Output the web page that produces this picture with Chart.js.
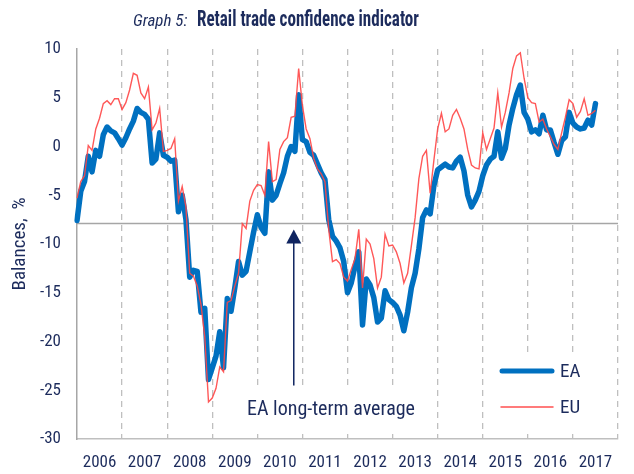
<!DOCTYPE html>
<html>
<head>
<meta charset="utf-8">
<script src="https://cdn.jsdelivr.net/npm/chart.js@4.4.0/dist/chart.umd.min.js"></script>
<style>
  body { margin: 0; background: #fff; }
</style>
</head>
<body>
<canvas id="myChart" width="634" height="474"></canvas>
<script>
// year labels under the axis (one per year, shown mid-year)
var years = ['2006', '2007', '2008', '2009', '2010', '2011', '2012', '2013', '2014', '2015', '2016', '2017'];
var monthNames = ['Jan', 'Feb', 'Mar', 'Apr', 'May', 'Jun', 'Jul', 'Aug', 'Sep', 'Oct', 'Nov', 'Dec'];

// monthly balances, Jan 2006 - Jul 2017
var eaValues = [
  -7.6, -4.6, -3.6, -1.0, -2.6, -0.4, -1.0, 1.2, 2.0, 1.6, 1.4, 0.8,
  0.15, 0.9, 1.8, 2.6, 3.9, 3.5, 3.3, 2.8, -1.7, -1.3, 1.4, -0.9,
  -1.1, -1.5, -1.4, -6.7, -5.0, -7.5, -13.4, -12.7, -12.8, -17.0, -16.6, -23.9,
  -22.7, -21.5, -19.0, -22.7, -15.6, -16.9, -14.5, -11.8, -13.2, -12.8, -10.8, -8.8,
  -7.0, -8.3, -8.9, -2.6, -5.5, -5.0, -3.8, -2.7, -1.0, 0.0, -0.5, 5.3,
  0.7, 0.5, -0.6, -0.9, -1.8, -2.7, -3.4, -7.5, -9.2, -9.7, -10.4, -11.8,
  -15.0, -14.0, -12.3, -10.8, -18.3, -13.6, -14.2, -15.5, -18.0, -17.6, -14.8, -15.7,
  -16.0, -16.4, -17.3, -18.9, -17.0, -14.5, -13.0, -10.5, -7.3, -6.5, -6.9, -4.0,
  -2.4, -2.1, -1.8, -2.1, -2.2, -1.5, -1.1, -2.5, -5.0, -6.2, -5.5, -4.6,
  -3.0, -1.9, -1.3, -1.0, 1.5, -1.2, -0.2, 2.2, 3.9, 5.3, 6.3, 3.5,
  2.8, 1.5, 1.7, 1.3, 3.2, 1.7, 1.7, 0.4, -0.8, 0.6, 1.0, 3.5,
  2.4, 2.0, 1.8, 1.9, 2.7, 2.2, 4.4
];
var euValues = [
  -5.3, -3.6, -3.0, 0.1, -0.4, 1.8, 2.9, 4.4, 4.7, 4.3, 4.9, 4.9,
  3.8, 4.5, 5.8, 7.5, 7.3, 5.5, 4.9, 6.1, 1.7, 2.4, 3.9, -0.5,
  -0.4, -0.2, 0.8, -5.6, -4.1, -6.2, -13.0, -13.3, -14.3, -16.2, -19.5, -26.2,
  -25.8, -24.8, -22.6, -23.1, -16.0, -15.8, -14.3, -13.0, -7.9, -8.4, -5.6, -4.5,
  -3.9, -4.0, -5.0, 0.5, -3.6, -3.4, -0.3, 0.5, 0.9, 3.0, 3.1, 8.0,
  4.2, 1.8, 0.8, -1.2, -2.3, -2.8, -3.6, -8.5, -11.8, -11.6, -12.0, -13.4,
  -13.8, -12.6, -11.5, -8.5, -14.5, -9.5, -10.0, -11.5, -14.5, -13.4, -9.0, -10.2,
  -10.1, -10.8, -12.0, -14.0, -13.0, -10.2, -7.3, -3.3, -1.0, -0.4, -4.8, -1.4,
  1.8, 3.4, 1.5, 1.8, 3.2, 3.8, 2.9, 1.8, -0.3, -1.9, -2.2, -2.3,
  1.4, -0.3, 0.8, 1.9, 5.5, 2.0, 3.5, 5.5, 8.0, 9.3, 9.6, 7.0,
  5.0, 4.5, 4.4, 2.5, 2.8, 1.8, 1.0, 0.2, -0.3, 1.4, 3.0, 4.8,
  4.4, 3.0, 3.6, 4.9, 3.2, 3.4, 3.7
];
var longTermAverage = -7.9;

var NAVY = '#1c2b5c';
var FONT = '"Liberation Sans Narrow", "Arial Narrow", "Roboto Condensed", "DejaVu Sans Condensed", "Liberation Sans", Arial, sans-serif';

// one category per month, Jan 2006 .. Jan 2018 (so the last year is a full slot)
var labels = [];
for (var yi = 0; yi <= years.length; yi++) {
  for (var m = 0; m < 12; m++) {
    if (yi === years.length && m > 0) break;
    labels.push(monthNames[m] + ' ' + (2006 + yi));
  }
}

var extras = {
  id: 'extras',
  beforeDatasetsDraw: function (chart) {
    var ctx = chart.ctx, ys = chart.scales.y, area = chart.chartArea;
    ctx.save();
    // white boxes behind the annotation text and the legend
    ctx.fillStyle = '#fff';
    ctx.fillRect(244, 386, 172, 44);
    ctx.fillRect(488, 352, 116, 80);
    // long-term average line
    var ya = ys.getPixelForValue(longTermAverage);
    ctx.strokeStyle = '#a6a6a6';
    ctx.lineWidth = 1.5;
    ctx.beginPath();
    ctx.moveTo(area.left, ya);
    ctx.lineTo(area.right, ya);
    ctx.stroke();
    ctx.restore();
  },
  afterDraw: function (chart) {
    var ctx = chart.ctx, xs = chart.scales.x, ys = chart.scales.y;
    ctx.save();
    // arrow to the long-term average
    var ax = xs.getPixelForValue(57.7);
    var tip = ys.getPixelForValue(-8.5);
    var base = ys.getPixelForValue(-24.5);
    ctx.strokeStyle = '#0f2460';
    ctx.fillStyle = '#0f2460';
    ctx.lineWidth = 1.5;
    ctx.beginPath();
    ctx.moveTo(ax, base);
    ctx.lineTo(ax, tip + 12);
    ctx.stroke();
    ctx.beginPath();
    ctx.moveTo(ax, tip);
    ctx.lineTo(ax - 7.5, tip + 14);
    ctx.lineTo(ax + 7.5, tip + 14);
    ctx.closePath();
    ctx.fill();

    ctx.fillStyle = NAVY;
    ctx.textBaseline = 'middle';
    ctx.textAlign = 'center';
    ctx.font = '20px ' + FONT;
    ctx.fillText('EA long-term average', 331, 410);

    // legend
    ctx.lineCap = 'round';
    ctx.strokeStyle = '#0070c0';
    ctx.lineWidth = 5;
    ctx.beginPath(); ctx.moveTo(502, 371); ctx.lineTo(552, 371); ctx.stroke();
    ctx.strokeStyle = '#ff5050';
    ctx.lineWidth = 1.5;
    ctx.beginPath(); ctx.moveTo(501, 407); ctx.lineTo(553, 407); ctx.stroke();
    ctx.textAlign = 'left';
    ctx.font = '19px ' + FONT;
    ctx.fillText('EA', 560, 372);
    ctx.fillText('EU', 560, 408);

    // title: italic prefix, then bold text squeezed to the narrow width of the original
    ctx.textBaseline = 'alphabetic';
    ctx.font = 'italic 17px ' + FONT;
    ctx.fillText('Graph 5:', 133, 26);
    ctx.font = 'bold 22px ' + FONT;
    var titleText = 'Retail trade confidence indicator';
    var tw = ctx.measureText(titleText).width;
    ctx.save();
    ctx.translate(197, 26);
    ctx.scale(222 / tw, 1);
    ctx.fillText(titleText, 0, 0);
    ctx.restore();

    // y axis title
    ctx.translate(20, 244);
    ctx.rotate(-Math.PI / 2);
    ctx.textAlign = 'center';
    ctx.textBaseline = 'middle';
    ctx.font = '19px ' + FONT;
    ctx.fillText('Balances,  %', 0, 0);
    ctx.restore();
  }
};

var ctx = document.getElementById('myChart').getContext('2d');
var myChart = new Chart(ctx, {
  type: 'line',
  data: {
    labels: labels,
    datasets: [
      {
        label: 'EU',
        data: euValues,
        borderColor: 'rgba(255, 70, 70, 0.9)',
        borderWidth: 1.4,
        pointRadius: 0,
        tension: 0,
        order: 1
      },
      {
        label: 'EA',
        data: eaValues,
        borderColor: '#0070c0',
        borderWidth: 5.5,
        borderJoinStyle: 'round',
        borderCapStyle: 'round',
        pointRadius: 0,
        tension: 0,
        order: 2
      }
    ]
  },
  options: {
    responsive: false,
    animation: false,
    devicePixelRatio: 1,
    layout: {
      padding: { left: 0, right: 16, top: 49, bottom: 0 }
    },
    plugins: {
      legend: { display: false },
      tooltip: { enabled: false }
    },
    scales: {
      x: {
        type: 'category',
        offset: false,
        afterFit: function (scale) { scale.height = 35; },
        grid: {
          drawTicks: false,
          lineWidth: 1.3,
          color: function (c) {
            return (c.index > 0 && c.index % 12 === 0) ? '#bfbfbf' : 'rgba(0,0,0,0)';
          }
        },
        border: { color: '#bfbfbf', width: 1.5, dash: [6, 5] },
        ticks: {
          autoSkip: false,
          maxRotation: 0,
          padding: 14,
          color: NAVY,
          font: { family: FONT, size: 17 },
          callback: function (val, index) {
            return index % 12 === 6 ? years[Math.floor(index / 12)] : '';
          }
        }
      },
      y: {
        min: -30,
        max: 10,
        afterFit: function (scale) { scale.width = 77; },
        grid: { display: false, drawTicks: false },
        border: { color: '#a6a6a6', width: 1.5 },
        ticks: {
          stepSize: 5,
          padding: 16,
          color: NAVY,
          font: { family: FONT, size: 17 }
        }
      }
    }
  },
  plugins: [extras]
});
</script>
</body>
</html>
